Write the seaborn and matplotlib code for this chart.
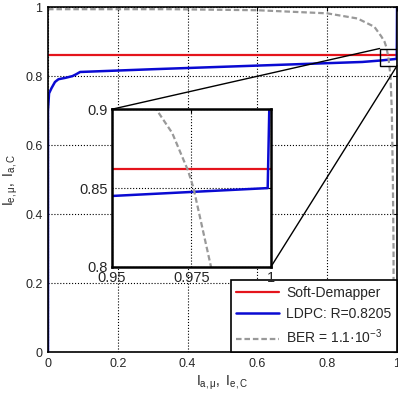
import numpy as np
import pandas as pd
import matplotlib
matplotlib.use('Agg')
from matplotlib import pyplot as plt
from matplotlib.patches import Rectangle, ConnectionPatch
import seaborn as sns

sns.set_style('white')
plt.rcParams['font.family'] = ['Liberation Sans', 'DejaVu Sans']
plt.rcParams['mathtext.fontset'] = 'custom'
plt.rcParams['mathtext.rm'] = 'Liberation Sans'
plt.rcParams['mathtext.it'] = 'Liberation Sans:italic'

# EXIT-Kurven
demap_x = [0.0, 1.0]
demap_y = [0.862, 0.862]

ldpc_x = [0.0, 0.0, 0.003, 0.01, 0.02, 0.03, 0.05, 0.07, 0.08, 0.092,
          0.3, 0.5, 0.7, 0.9, 0.95, 0.999, 0.9995, 1.0]
ldpc_y = [0.0, 0.70, 0.75, 0.765, 0.783, 0.791, 0.795, 0.80, 0.805, 0.812,
          0.82, 0.827, 0.834, 0.841, 0.845, 0.850, 0.90, 1.0]

ber_x = [0.0, 0.35, 0.6, 0.8, 0.887, 0.935, 0.955, 0.964, 0.969, 0.974,
         0.9757, 0.9812, 0.985, 0.988, 0.99, 0.99]
ber_y = [0.994, 0.994, 0.991, 0.982, 0.967, 0.943, 0.915, 0.9, 0.885, 0.861,
         0.85, 0.80, 0.70, 0.50, 0.30, 0.0]

labels = ['Soft-Demapper', 'LDPC: R=0.8205', 'BER = 1.1·10$^{-3}$']
red, blue, grey = '#e4141c', '#0a0ad2', '#999999'


def draw(ax, with_labels):
    lab = labels if with_labels else [None] * 3
    sns.lineplot(x=demap_x, y=demap_y, ax=ax, color=red, lw=1.6,
                 sort=False, estimator=None, label=lab[0])
    sns.lineplot(x=ldpc_x, y=ldpc_y, ax=ax, color=blue, lw=1.8,
                 sort=False, estimator=None, label=lab[1])
    sns.lineplot(x=ber_x, y=ber_y, ax=ax, color=grey, lw=1.6,
                 sort=False, estimator=None, label=lab[2],
                 linestyle=(0, (2.5, 1.3)))


fig = plt.figure(figsize=(3.98, 3.96), dpi=100)
ax = fig.add_axes([0.1206, 0.111, 0.877, 0.871])
draw(ax, True)
ax.set_xlim(0, 1)
ax.set_ylim(0, 1)
ax.set_xticks(np.arange(0, 1.01, 0.2))
ax.set_yticks(np.arange(0, 1.01, 0.2))
ax.set_xticklabels(['0', '0.2', '0.4', '0.6', '0.8', '1'])
ax.set_yticklabels(['0', '0.2', '0.4', '0.6', '0.8', '1'])
ax.grid(True, color='k', linestyle=':', linewidth=0.8)
ax.tick_params(direction='in', length=3, top=True, right=True,
               labelsize=9, pad=4, color='k')
for s in ax.spines.values():
    s.set_color('k')
    s.set_linewidth(1.2)
ax.set_xlabel(r'$\mathregular{I_{a,μ},\ I_{e,C}}$', fontsize=10, labelpad=3)
ax.set_ylabel(r'$\mathregular{I_{e,μ},\ I_{a,C}}$', fontsize=10, labelpad=4)
leg = ax.legend(loc='lower right', fancybox=False, edgecolor='k',
                framealpha=1, borderaxespad=0, fontsize=10,
                handlelength=3.1, handletextpad=0.5)
leg.get_frame().set_linewidth(1.2)

# Ausschnitt
ax.add_patch(Rectangle((0.95, 0.83), 0.05, 0.05, fill=False,
                       edgecolor='k', lw=1, zorder=5))

axi = fig.add_axes([0.2806, 0.326, 0.400, 0.398])
draw(axi, False)
if axi.get_legend() is not None:
    axi.get_legend().remove()
axi.set_xlim(0.95, 1)
axi.set_ylim(0.8, 0.9)
axi.set_xticks([0.95, 0.975, 1])
axi.set_xticklabels(['0.95', '0.975', '1'])
axi.set_yticks([0.8, 0.85, 0.9])
axi.set_yticklabels(['0.8', '0.85', '0.9'])
axi.grid(True, color='k', linestyle=':', linewidth=0.8)
axi.tick_params(direction='in', length=3, top=True, right=True,
                labelsize=10.5, pad=3, color='k')
for s in axi.spines.values():
    s.set_color('k')
    s.set_linewidth(1.8)

for pi, pm in [((0.95, 0.9), (0.95, 0.88)), ((1.0, 0.8), (1.0, 0.83))]:
    con = ConnectionPatch(xyA=pi, coordsA=axi.transData,
                          xyB=pm, coordsB=ax.transData,
                          color='k', lw=1)
    fig.add_artist(con)

fig.savefig('out.png', dpi=100)
